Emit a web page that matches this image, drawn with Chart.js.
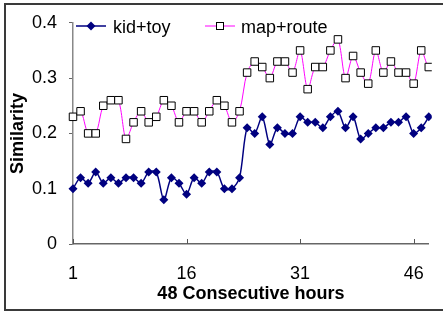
<!DOCTYPE html>
<html>
<head>
<meta charset="utf-8">
<script src="https://cdn.jsdelivr.net/npm/chart.js@4/dist/chart.umd.min.js"></script>
<style>
  html, body { margin: 0; padding: 0; background: #fff; overflow: hidden; }
  #wrap { position: relative; width: 443px; height: 312px; }
  #frame { position: absolute; left: 4px; top: 3px; width: 470px; height: 304px;
           border: 2px solid #3a3a3a; pointer-events: none; }
</style>
</head>
<body>
<div id="wrap">
  <canvas id="chart" width="443" height="312"></canvas>
  <div id="frame"></div>
</div>
<script>
'use strict';

// hours along the x axis (the last one is cut off at the right edge)
const hours = [1, 2, 3, 4, 5, 6, 7, 8, 9, 10, 11, 12, 13, 14, 15, 16, 17, 18, 19, 20,
  21, 22, 23, 24, 25, 26, 27, 28, 29, 30, 31, 32, 33, 34, 35, 36, 37, 38, 39, 40,
  41, 42, 43, 44, 45, 46, 47, 48, 49];

const kidToy = [0.10, 0.12, 0.11, 0.13, 0.11, 0.12, 0.11, 0.12, 0.12, 0.11,
  0.13, 0.13, 0.08, 0.12, 0.11, 0.09, 0.12, 0.11, 0.13, 0.13,
  0.10, 0.10, 0.12, 0.21, 0.20, 0.23, 0.18, 0.21, 0.20, 0.20,
  0.23, 0.22, 0.22, 0.21, 0.23, 0.24, 0.21, 0.23, 0.19, 0.20,
  0.21, 0.21, 0.22, 0.22, 0.23, 0.20, 0.21, 0.23, 0.26];

const mapRoute = [0.23, 0.24, 0.20, 0.20, 0.25, 0.26, 0.26, 0.19, 0.22, 0.24,
  0.22, 0.23, 0.26, 0.25, 0.22, 0.24, 0.24, 0.22, 0.24, 0.26,
  0.25, 0.22, 0.24, 0.31, 0.33, 0.32, 0.30, 0.33, 0.33, 0.31,
  0.35, 0.28, 0.32, 0.32, 0.35, 0.37, 0.30, 0.34, 0.31, 0.29,
  0.35, 0.31, 0.33, 0.31, 0.31, 0.29, 0.35, 0.32, 0.36];

const seriesNames = ['kid+toy', 'map+route'];
const xTicks = [1, 16, 31, 46];
const yTicks = [0, 0.1, 0.2, 0.3, 0.4];

const FONT = 'Liberation Sans, Arial, sans-serif';
const NAVY = '#000080';
const MAGENTA = '#ff00ff';

function toPoints(ys) {
  return ys.map((y, i) => ({ x: hours[i], y: y }));
}

// little line+marker picture for the legend
function legendMarker(lineColor, lineWidth, drawMark) {
  const c = document.createElement('canvas');
  c.width = 30;
  c.height = 12;
  const g = c.getContext('2d');
  g.strokeStyle = lineColor;
  g.lineWidth = lineWidth;
  g.beginPath();
  g.moveTo(0, 6);
  g.lineTo(30, 6);
  g.stroke();
  drawMark(g, 15, 6);
  return c;
}

const kidMark = legendMarker(NAVY, 1.5, (g, x, y) => {
  g.fillStyle = NAVY;
  g.beginPath();
  g.moveTo(x, y - 4.5); g.lineTo(x + 4.5, y); g.lineTo(x, y + 4.5); g.lineTo(x - 4.5, y);
  g.closePath();
  g.fill();
});
const mapMark = legendMarker(MAGENTA, 1, (g, x, y) => {
  g.fillStyle = '#fff';
  g.strokeStyle = '#000';
  g.lineWidth = 1;
  g.fillRect(x - 3.5, y - 3.5, 7, 7);
  g.strokeRect(x - 3.5, y - 3.5, 7, 7);
});

// x ticks point up into the plot, legend sits inside the plot top-left
const extras = {
  id: 'extras',
  afterDraw(chart) {
    const sx = chart.scales.x;
    const ctx = chart.ctx;
    ctx.save();
    ctx.strokeStyle = '#555';
    ctx.lineWidth = 1;
    xTicks.forEach(v => {
      const px = Math.round(sx.getPixelForValue(v)) + 0.5;
      ctx.beginPath();
      ctx.moveTo(px, sx.top);
      ctx.lineTo(px, sx.top - 5);
      ctx.stroke();
    });

    const items = [
      { mark: kidMark, mx: 76, tx: 113 },
      { mark: mapMark, mx: 205, tx: 241 },
    ];
    ctx.font = '18px ' + FONT;
    ctx.fillStyle = '#000';
    ctx.textBaseline = 'alphabetic';
    items.forEach((it, i) => {
      ctx.drawImage(it.mark, it.mx, 20);
      ctx.fillText(seriesNames[i], it.tx, 33);
    });
    ctx.restore();
  }
};

const canvasElem = document.getElementById('chart');

const data = {
  datasets: [
    {
      label: seriesNames[0],
      data: toPoints(kidToy),
      borderColor: NAVY,
      backgroundColor: NAVY,
      borderWidth: 1.5,
      pointStyle: 'rectRot',
      pointRadius: 4.5,
      pointBorderWidth: 0,
      tension: 0.3,
      clip: { left: 8, top: 8, right: 3, bottom: 8 },
    },
    {
      label: seriesNames[1],
      data: toPoints(mapRoute),
      borderColor: MAGENTA,
      backgroundColor: '#fff',
      borderWidth: 1,
      pointStyle: 'rect',
      pointRadius: 5.3,
      pointBorderColor: '#000',
      pointBackgroundColor: '#fff',
      pointBorderWidth: 1,
      tension: 0.3,
      clip: { left: 8, top: 8, right: 3, bottom: 8 },
    },
  ],
};

const config = {
  type: 'line',
  data: data,
  plugins: [extras],
  options: {
    responsive: false,
    animation: false,
    layout: { padding: { left: 0, right: 8, top: 19, bottom: 0 } },
    plugins: {
      tooltip: { enabled: false },
      legend: { display: false },
    },
    scales: {
      x: {
        type: 'linear',
        min: 1,
        max: 48,
        afterBuildTicks: s => { s.ticks = xTicks.map(v => ({ value: v })); },
        afterFit: s => { s.height = 68; },
        grid: { display: false, drawTicks: false },
        border: { display: true, color: '#666', width: 1.5 },
        ticks: { color: '#000', padding: 19, font: { family: FONT, size: 18 }, maxRotation: 0 },
        title: {
          display: true,
          text: '48 Consecutive hours',
          color: '#000',
          font: { family: FONT, size: 18, weight: 'bold' },
          padding: { top: 0, bottom: 7 },
        },
      },
      y: {
        min: 0,
        max: 0.4,
        afterBuildTicks: s => { s.ticks = yTicks.map(v => ({ value: v })); },
        afterFit: s => { s.width = 73; },
        grid: { drawOnChartArea: false, drawTicks: true, tickLength: 4, color: '#666' },
        border: { display: true, color: '#888', width: 1.5 },
        ticks: { color: '#000', padding: 12, font: { family: FONT, size: 18 } },
        title: {
          display: true,
          text: 'Similarity',
          color: '#000',
          font: { family: FONT, size: 18, weight: 'bold' },
          padding: { top: 7, bottom: 0 },
        },
      },
    },
  },
};

const myChart = new Chart(canvasElem, config);
</script>
</body>
</html>
